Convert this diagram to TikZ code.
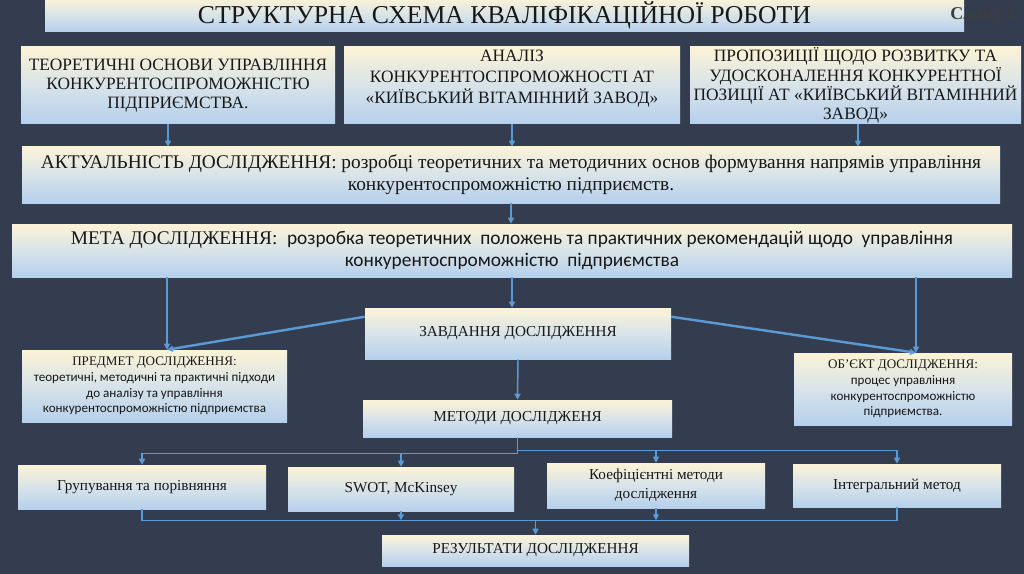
\documentclass[tikz,border=0pt]{standalone}
\usepackage{fontspec}
\setmainfont{Liberation Serif}
\newfontfamily\calibfont{Carlito}
\usetikzlibrary{arrows.meta, calc}

\definecolor{slidebg}{RGB}{51,61,79}
\definecolor{boxtop}{RGB}{252,243,214}
\definecolor{boxmid}{RGB}{216,227,233}
\definecolor{boxbot}{RGB}{181,208,236}
\definecolor{linkblue}{RGB}{91,155,213}
\definecolor{inktext}{RGB}{24,24,24}
\definecolor{slidetag}{RGB}{62,62,62}

\tikzset{
  panel/.style 2 args={rectangle, inner xsep=1pt, inner ysep=0pt, align=center, text=inktext,
    top color=boxtop, bottom color=boxbot, middle color=boxmid,
    minimum width=#1*0.75pt, minimum height=#2*0.75pt},
  link/.style={draw=linkblue, line width=1.1pt},
  linkarr/.style={link, -{Triangle[length=4.5pt,width=4.5pt]}},
  slant/.style={linkarr, line width=1.8pt},
  headfont/.style={font=\rmfamily\fontsize{19.3}{22}\selectfont},
  rowfont/.style={font=\rmfamily\fontsize{13}{14.4}\selectfont},
  widefont/.style={font=\rmfamily\fontsize{14.5}{16.5}\selectfont},
  midfont/.style={font=\rmfamily\fontsize{11.4}{13}\selectfont},
  smallfont/.style={font=\rmfamily\fontsize{9.8}{11.8}\selectfont},
  leaffont/.style={font=\rmfamily\fontsize{11.4}{14.2}\selectfont},
}

\begin{document}
\begin{tikzpicture}[x=0.75pt, y=-0.75pt]
  \useasboundingbox (0,0) rectangle (1024,574);
  \fill[slidebg] (0,0) rectangle (1024,574);

  % heading
  \node[panel={919}{34}, headfont] (title) at (504.5,15) {СТРУКТУРНА СХЕМА КВАЛІФІКАЦІЙНОЇ РОБОТИ};
  \node[font=\rmfamily\bfseries\fontsize{13.5}{15}\selectfont, text=slidetag] (slide) at (983,15) {Слайд 2};

  % first row
  \node[panel={314}{77}, rowfont] (teor) at (178,85.5)
    {ТЕОРЕТИЧНІ ОСНОВИ УПРАВЛІННЯ\\КОНКУРЕНТОСПРОМОЖНІСТЮ\\ПІДПРИЄМСТВА.};
  \node[panel={336}{77}] (anal) at (512,85.5) {};
  \node[rowfont, font=\fontsize{13}{15.8}\selectfont, align=center, text=inktext,
    inner sep=0pt, anchor=north] (analtext) at ($(anal.north)+(0,3)$)
    {АНАЛІЗ\\КОНКУРЕНТОСПРОМОЖНОСТІ АТ\\«КИЇВСЬКИЙ ВІТАМІННИЙ ЗАВОД»};
  \node[panel={331}{77}, rowfont] (prop) at (855.5,85.5)
    {ПРОПОЗИЦІЇ ЩОДО РОЗВИТКУ ТА\\УДОСКОНАЛЕННЯ КОНКУРЕНТНОЇ\\ПОЗИЦІЇ АТ «КИЇВСЬКИЙ ВІТАМІННИЙ\\ЗАВОД»};

  \node[panel={978}{56}, widefont] (akt) at (511,175)
    {АКТУАЛЬНІСТЬ ДОСЛІДЖЕННЯ: розробці теоретичних та методичних основ формування напрямів управління\\конкурентоспроможністю підприємств.};
  \node[panel={1000}{53}, widefont] (meta) at (512,250.5)
    {МЕТА ДОСЛІДЖЕННЯ:\ \ {\calibfont розробка теоретичних\ \ положень та практичних рекомендацій щодо\ \ управління}\\{\calibfont конкурентоспроможністю\ \ підприємства}};

  \node[panel={306}{51}, midfont] (zavd) at (518,333.5) {ЗАВДАННЯ ДОСЛІДЖЕННЯ};
  \node[panel={265}{72}, smallfont] (predmet) at (154.5,386)
    {ПРЕДМЕТ ДОСЛІДЖЕННЯ:\\{\calibfont теоретичні, методичні та практичні підходи}\\{\calibfont до аналізу та управління}\\{\calibfont конкурентоспроможністю підприємства}};
  \node[panel={218}{72}, smallfont] (obj) at (903,389)
    {ОБ’ЄКТ ДОСЛІДЖЕННЯ:\\{\calibfont процес управління}\\{\calibfont конкурентоспроможністю}\\{\calibfont підприємства.}};
  \node[panel={309}{37}, midfont] (metody) at (517.5,418.5) {МЕТОДИ ДОСЛІДЖЕНЯ};

  % methods
  \node[panel={248}{44}, leaffont] (m1) at (142,487) {Групування та порівняння};
  \node[panel={226}{44}, leaffont] (m2) at (401,489) {SWOT, McKinsey};
  \node[panel={218}{45}, leaffont] (m3) at (656,485.5) {Коефіцієнтні методи\\дослідження};
  \node[panel={208}{43}, leaffont] (m4) at (897,485.5) {Інтегральний метод};

  \node[panel={307}{31}, midfont] (res) at (535.5,550.5) {РЕЗУЛЬТАТИ ДОСЛІДЖЕННЯ};

  % connectors
  \coordinate (t1) at ($(teor.south)+(-10,0)$);
  \coordinate (t3) at ($(prop.south)+(2.5,0)$);
  \draw[linkarr] (t1) -- (t1 |- akt.north);
  \draw[linkarr] (anal.south) -- (anal.south |- akt.north);
  \draw[linkarr] (t3) -- (t3 |- akt.north);
  \draw[linkarr] (akt.south) -- (akt.south |- meta.north);

  \coordinate (pIn) at ($(predmet.north)+(12.5,0)$);
  \coordinate (oIn) at ($(obj.north)+(13,0)$);
  \draw[linkarr] (meta.south) -- (meta.south |- zavd.north);
  \draw[linkarr] (pIn |- meta.south) -- (pIn);
  \draw[linkarr] (oIn |- meta.south) -- (oIn);
  \draw[slant] ($(zavd.north west)+(0,9)$) -- (pIn);
  \draw[slant] ($(zavd.north east)+(0,9)$) -- (oIn);
  \draw[linkarr] (zavd.south) -- (metody.north);

  \coordinate (splitL) at ($(metody.south)+(0,16)$);
  \coordinate (splitR) at ($(metody.south)+(0,13)$);
  \draw[linkarr] (metody.south) -- (splitL) -| (m1.north);
  \draw[linkarr] (m2.north |- splitL) -- (m2.north);
  \draw[linkarr] (splitR) -| (m4.north);
  \draw[linkarr] (m3.north |- splitR) -- (m3.north);

  \coordinate (mergeY) at ($(m1.south)+(0,11)$);
  \draw[link] (m1.south) |- (m4.south |- mergeY) -- (m4.south);
  \draw[linkarr] (m2.south) -- (m2.south |- mergeY);
  \draw[linkarr] (m3.south) -- (m3.south |- mergeY);
  \draw[linkarr] (res.north |- mergeY) -- (res.north);
\end{tikzpicture}
\end{document}
